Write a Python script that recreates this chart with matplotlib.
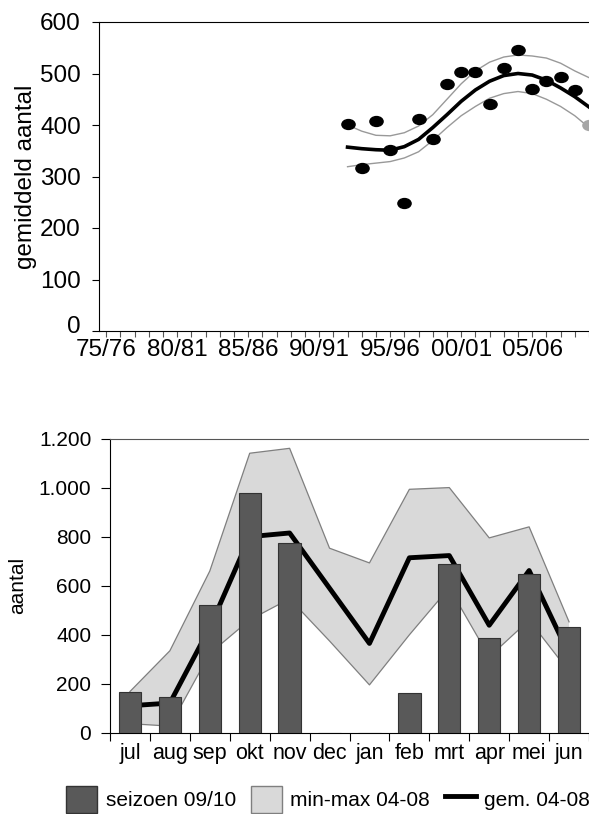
import numpy as np
import matplotlib.pyplot as plt
from matplotlib.patches import Patch
from matplotlib.lines import Line2D
from matplotlib.path import Path
from matplotlib.transforms import Affine2D, ScaledTranslation
from matplotlib.ticker import FuncFormatter

plt.rcParams['font.family'] = ['Liberation Sans', 'DejaVu Sans']

# top chart: seasons 75/76 .. 09/10
seasons = ['%02d/%02d' % (y % 100, (y + 1) % 100) for y in range(1975, 2010)]
first_idx = 17  # 92/93
counts = [402, 317, 408, 351, 248, 411, 373, 480, 503, 503,
          440, 511, 546, 469, 485, 493, 468, 400]
trend = [357, 354, 352, 351, 358, 372, 395, 420, 446, 468,
         485, 496, 500, 497, 487, 472, 455, 435]
upper = [400, 388, 380, 379, 385, 398, 420, 450, 480, 505,
         522, 532, 536, 534, 530, 520, 505, 492]
lower = [319, 323, 326, 329, 336, 348, 370, 395, 418, 436,
         452, 461, 465, 461, 450, 436, 418, 395]

# bottom chart
months = ['jul', 'aug', 'sep', 'okt', 'nov', 'dec', 'jan', 'feb', 'mrt', 'apr', 'mei', 'jun']
season_0910 = [167, 147, 520, 978, 775, 0, 0, 163, 688, 389, 647, 430]
mean_0408 = [111, 122, 430, 800, 815, 590, 365, 714, 723, 439, 662, 320]
max_0408 = [169, 335, 660, 1140, 1160, 753, 693, 993, 1000, 795, 840, 453]
min_0408 = [38, 28, 324, 461, 547, 375, 196, 400, 592, 310, 460, 250]

fig = plt.figure(figsize=(5.89, 8.14), dpi=100)

# ---- top ----
ax1 = fig.add_axes([99/589, 1 - 331/814, 490/589, 309/814])
x = np.arange(first_idx, first_idx + len(counts))
ax1.plot(x, upper, color='#999999', lw=1)
ax1.plot(x, lower, color='#999999', lw=1)
ax1.plot(x, trend, color='black', lw=2.6)
ell = Affine2D().scale(1, 0.75).transform_path(Path.unit_circle())
ax1.plot(x[:-1], counts[:-1], ls='none', marker=ell, ms=9.5, color='black')
ax1.plot(x[-1:], counts[-1:], ls='none', marker=ell, ms=9.5, color='#a6a6a6')
ax1.set_xlim(-0.5, 34)
ax1.set_ylim(0, 600)
ax1.set_yticks(range(0, 601, 100))
ax1.set_xticks(range(len(seasons)))
ax1.set_xticklabels([s if i % 5 == 0 else '' for i, s in enumerate(seasons)])
ax1.tick_params(axis='y', labelsize=17.5, length=5, width=0.8, pad=8)
ax1.tick_params(axis='x', labelsize=17.5, length=4, width=0.8, pad=2, color='#555555')
ax1.set_ylabel('gemiddeld aantal', fontsize=17.5, labelpad=2)
ax1.spines['right'].set_visible(False)
for s in ['top', 'left', 'bottom']:
    ax1.spines[s].set_linewidth(0.8)
# lift the "0" a little so it sits above the first season label
zero = ax1.get_yticklabels()[0]
zero.set_transform(zero.get_transform() + ScaledTranslation(0, 5/72, fig.dpi_scale_trans))

# ---- bottom ----
ax2 = fig.add_axes([110/589, 1 - 733/814, 479/589, 294.5/814])
xm = np.arange(len(months))
ax2.fill_between(xm, min_0408, max_0408, facecolor='#d9d9d9', edgecolor='none', zorder=1)
ax2.plot(xm, max_0408, color='#7f7f7f', lw=0.9, zorder=2)
ax2.plot(xm, min_0408, color='#7f7f7f', lw=0.9, zorder=2)
ax2.plot(xm, mean_0408, color='black', lw=3.5, zorder=3)
ax2.bar(xm, season_0910, width=0.56, color='#595959', edgecolor='#333333', lw=0.8, zorder=4)
ax2.set_xlim(-0.5, 11.4)
ax2.set_ylim(0, 1200)
ax2.set_yticks(range(0, 1201, 200))
ax2.yaxis.set_major_formatter(FuncFormatter(lambda v, p: '{:,.0f}'.format(v).replace(',', '.')))
ax2.set_xticks(xm)
ax2.set_xticklabels(months)
ax2.set_xticks(np.arange(-0.5, 11.6, 1), minor=True)
ax2.tick_params(axis='x', which='major', length=0, labelsize=15.5, pad=7)
ax2.tick_params(axis='x', which='minor', length=6, width=0.8)
ax2.tick_params(axis='y', labelsize=15, length=6.5, width=0.8, pad=7)
ax2.set_ylabel('aantal', fontsize=15, labelpad=8)
ax2.spines['right'].set_visible(False)
for s in ['top', 'left', 'bottom']:
    ax2.spines[s].set_linewidth(0.8)
ax2.spines['top'].set_color('#555555')

handles = [Patch(facecolor='#595959', edgecolor='#333333'),
           Patch(facecolor='#d9d9d9', edgecolor='#7f7f7f'),
           Line2D([], [], color='black', lw=3.5)]
labels = ['seizoen 09/10', 'min-max 04-08', 'gem. 04-08']
fig.legend(handles, labels, loc='center', bbox_to_anchor=(0.557, 0.018), ncol=3,
           frameon=False, fontsize=15, handlelength=1.5, handleheight=1.6,
           handletextpad=0.4, columnspacing=0.7, borderpad=0)

fig.savefig('out.png', dpi=100)
